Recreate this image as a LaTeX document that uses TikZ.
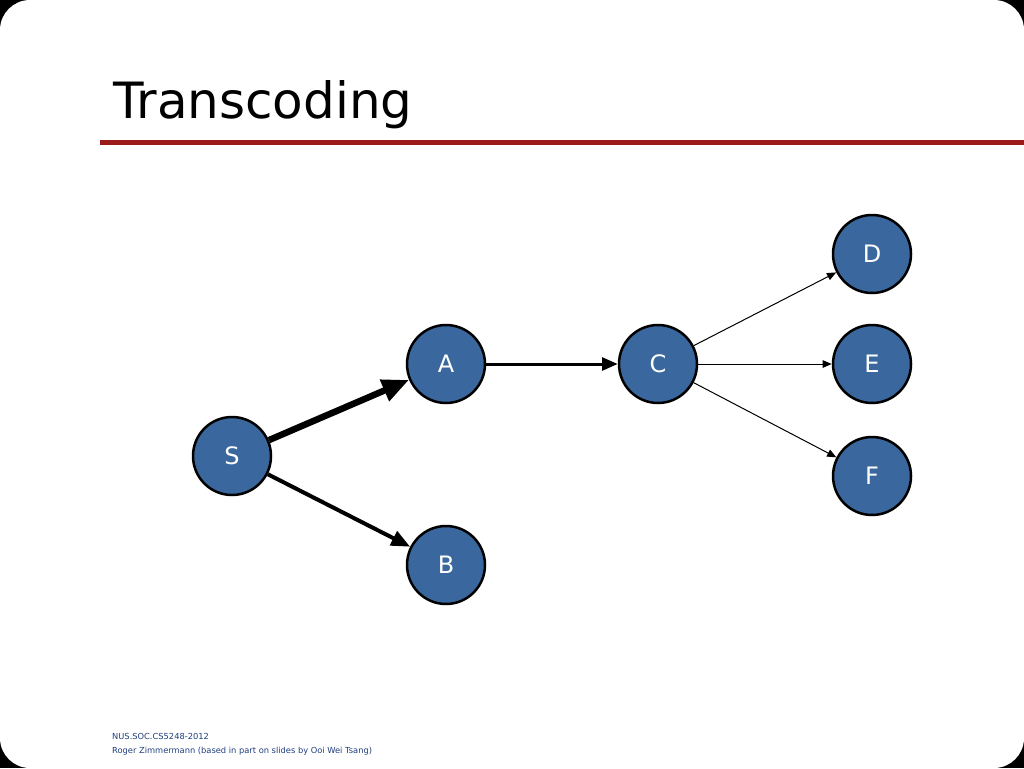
\documentclass[tikz,border=0pt]{standalone}
\usepackage{fontspec}
\setmainfont{DejaVu Sans}
\usetikzlibrary{arrows.meta}
\definecolor{nodeblue}{HTML}{3A689E}
\definecolor{barred}{HTML}{9B1B1B}
\definecolor{foot}{HTML}{1F3F7F}
\begin{document}
\begin{tikzpicture}[x=1pt,y=-1pt,
  vtx/.style={circle,draw=black,line width=2.5pt,fill=nodeblue,minimum size=78pt,inner sep=0pt,text=white,font=\fontsize{24}{24}\selectfont},
  edge/.style={-{Triangle[length=#1*3.2pt+6pt,width=#1*2.6pt+5pt]},line width=#1 pt}]
\fill[black] (0,0) rectangle (1024,768);
\fill[white,rounded corners=30pt] (0,0) rectangle (1024,768);
\useasboundingbox (0,0) rectangle (1024,768);
\node[anchor=base west,inner sep=0pt,font=\fontsize{50}{50}\selectfont] (title) at (113,118) {Transcoding};
\fill[barred] (100,139.5) rectangle (1024,144.5);
\node[vtx] (S) at (232,456) {S};
\node[vtx] (A) at (446,364) {A};
\node[vtx] (B) at (446,565) {B};
\node[vtx] (C) at (658,364) {C};
\node[vtx] (D) at (872,254) {D};
\node[vtx] (E) at (872,364) {E};
\node[vtx] (F) at (872,476) {F};
\draw[edge=6.5] (S) -- (A);
\draw[edge=4] (S) -- (B);
\draw[edge=3] (A) -- (C);
\draw[edge=1] (C) -- (D);
\draw[edge=1] (C) -- (E);
\draw[edge=1] (C) -- (F);
\node[anchor=base west,inner sep=0pt,text=foot,font=\fontsize{8.3}{10}\selectfont] (f1) at (112,739) {NUS.SOC.CS5248-2012};
\node[anchor=base west,inner sep=0pt,text=foot,font=\fontsize{8.3}{10}\selectfont] (f2) at (112,753) {Roger Zimmermann (based in part on slides by Ooi Wei Tsang)};
\end{tikzpicture}
\end{document}
